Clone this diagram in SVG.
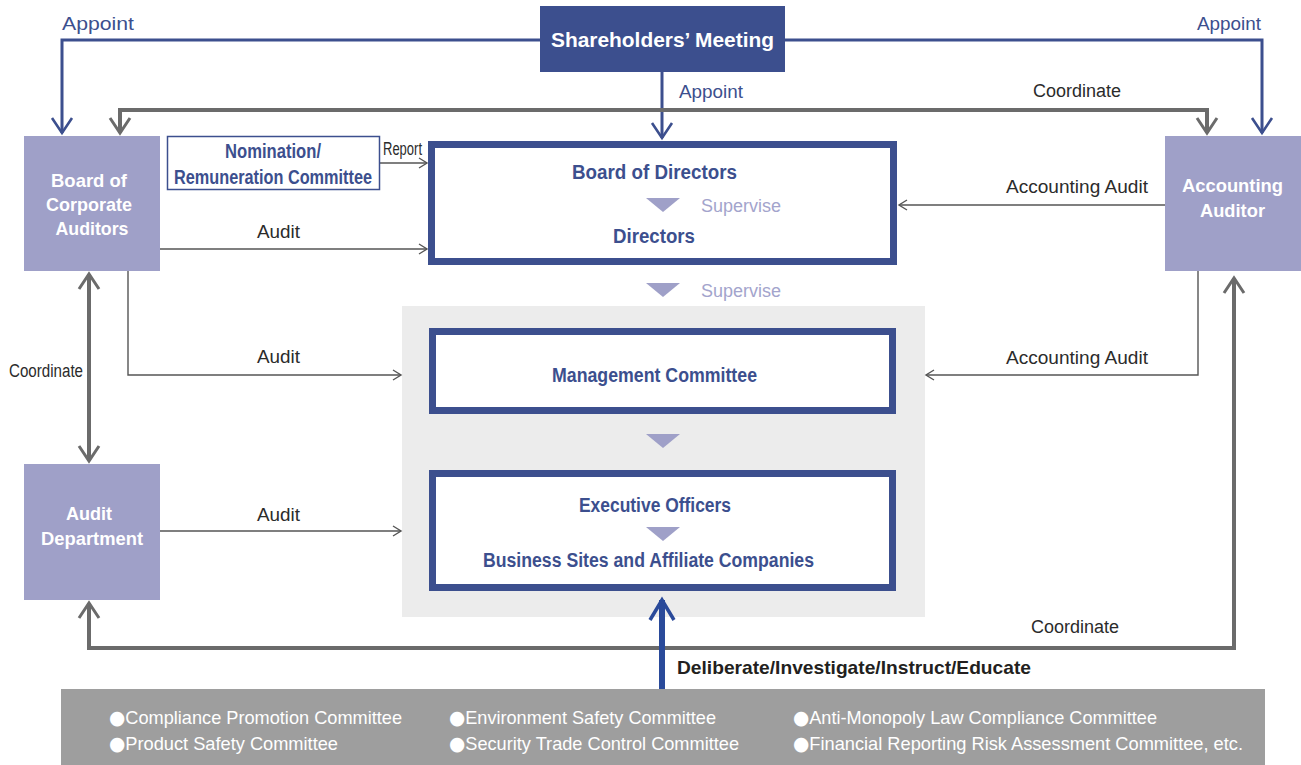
<svg xmlns="http://www.w3.org/2000/svg" width="1301" height="765" viewBox="0 0 1301 765">
  <style>
    text { font-family: "Liberation Sans", Arial, sans-serif; }
    .lbl { font-size: 18px; fill: #2b2b2b; }
    .blue-lbl { font-size: 19px; fill: #3c4f8e; }
    .sup { font-size: 18px; fill: #a3a4cc; }
    .hd { font-size: 20px; font-weight: bold; fill: #3c4f8e; }
    .wt { font-size: 19px; font-weight: bold; fill: #ffffff; }
    .lst { font-size: 18.5px; fill: #ffffff; }
    .dot { font-family: "DejaVu Sans", sans-serif; font-size: 19px; }
    .org { fill: #9fa0c8; }
    .frame { fill: #ffffff; stroke: #3c4f8e; stroke-width: 7; }
    .tri { fill: #9fa0c8; }
    .c-blue { fill: none; stroke: #3c4f8e; stroke-width: 3; }
    .c-gray { fill: none; stroke: #6b6b6b; stroke-width: 4; }
    .c-thin { fill: none; stroke: #555555; stroke-width: 1.4; }
    .c-thick { fill: none; stroke: #2a4a9a; stroke-width: 6; }
  </style>
  <defs>
    <marker id="mBlue" markerUnits="userSpaceOnUse" markerWidth="40" markerHeight="40" refX="0" refY="0" orient="auto" overflow="visible">
      <path d="M-15,-10 L0,0 L-15,10" fill="none" stroke="#3c4f8e" stroke-width="2.6"/>
    </marker>
    <marker id="mGray" markerUnits="userSpaceOnUse" markerWidth="40" markerHeight="40" refX="0" refY="0" orient="auto-start-reverse" overflow="visible">
      <path d="M-15,-10 L0,0 L-15,10" fill="none" stroke="#6b6b6b" stroke-width="3"/>
    </marker>
    <marker id="mThin" markerUnits="userSpaceOnUse" markerWidth="20" markerHeight="20" refX="0" refY="0" orient="auto" overflow="visible">
      <path d="M-8,-5 L0,0 L-8,5" fill="none" stroke="#555555" stroke-width="1.4"/>
    </marker>
    <marker id="mThick" markerUnits="userSpaceOnUse" markerWidth="40" markerHeight="40" refX="0" refY="0" orient="auto" overflow="visible">
      <path d="M-20,-12 L0,0 L-20,12" fill="none" stroke="#2a4a9a" stroke-width="3.5"/>
    </marker>
  </defs>

  <rect width="1301" height="765" fill="#ffffff"/>

  <!-- execution panel behind management and officers -->
  <rect id="execution-panel" x="402" y="306" width="523" height="311" fill="#ececec"/>

  <!-- connectors -->
  <g id="connectors">
    <!-- appointments from the shareholders -->
    <path class="c-blue" d="M540,40 H62 V133" marker-end="url(#mBlue)"/>
    <path class="c-blue" d="M785,40 H1262 V133" marker-end="url(#mBlue)"/>
    <path class="c-blue" d="M662,72 V138" marker-end="url(#mBlue)"/>
    <!-- coordination between auditors -->
    <path class="c-gray" d="M120,133 V110 H1207 V133" marker-start="url(#mGray)" marker-end="url(#mGray)"/>
    <path class="c-gray" d="M89,274 V461" marker-start="url(#mGray)" marker-end="url(#mGray)"/>
    <path class="c-gray" d="M89,603 V648 H1234 V278" marker-start="url(#mGray)" marker-end="url(#mGray)"/>
    <!-- reports and audits -->
    <path class="c-thin" d="M379,163 H427" marker-end="url(#mThin)"/>
    <path class="c-thin" d="M160,249 H427" marker-end="url(#mThin)"/>
    <path class="c-thin" d="M128,271 V375 H401" marker-end="url(#mThin)"/>
    <path class="c-thin" d="M160,531 H401" marker-end="url(#mThin)"/>
    <path class="c-thin" d="M1165,205 H899" marker-end="url(#mThin)"/>
    <path class="c-thin" d="M1198,271 V375 H926" marker-end="url(#mThin)"/>
    <!-- committees to execution -->
    <path class="c-thick" d="M662,689 V600" marker-end="url(#mThick)"/>

    <text class="blue-lbl" x="62" y="30" textLength="72" lengthAdjust="spacingAndGlyphs">Appoint</text>
    <text class="blue-lbl" x="1197" y="30" textLength="64" lengthAdjust="spacingAndGlyphs">Appoint</text>
    <text class="blue-lbl" x="679" y="98" textLength="64" lengthAdjust="spacingAndGlyphs">Appoint</text>
    <text class="lbl" x="1033" y="97" textLength="88" lengthAdjust="spacingAndGlyphs">Coordinate</text>
    <text class="lbl" x="383" y="155" font-size="15" textLength="39" lengthAdjust="spacingAndGlyphs">Report</text>
    <text class="lbl" x="257" y="238" textLength="43" lengthAdjust="spacingAndGlyphs">Audit</text>
    <text class="lbl" x="257" y="363" textLength="43" lengthAdjust="spacingAndGlyphs">Audit</text>
    <text class="lbl" x="257" y="521" textLength="43" lengthAdjust="spacingAndGlyphs">Audit</text>
    <text class="lbl" x="1006" y="193" textLength="142" lengthAdjust="spacingAndGlyphs">Accounting Audit</text>
    <text class="lbl" x="1006" y="364" textLength="142" lengthAdjust="spacingAndGlyphs">Accounting Audit</text>
    <text class="lbl" x="9" y="377" font-size="16" textLength="74" lengthAdjust="spacingAndGlyphs">Coordinate</text>
    <text class="lbl" x="1031" y="633" textLength="88" lengthAdjust="spacingAndGlyphs">Coordinate</text>
    <text x="677" y="674" font-size="19" font-weight="bold" fill="#231f20" textLength="354" lengthAdjust="spacingAndGlyphs">Deliberate/Investigate/Instruct/Educate</text>
  </g>

  <!-- shareholders -->
  <g id="shareholders-meeting">
    <rect x="540" y="6" width="245" height="66" fill="#3c4f8e"/>
    <text x="662.5" y="47" text-anchor="middle" font-size="21" font-weight="bold" fill="#ffffff" textLength="223" lengthAdjust="spacingAndGlyphs">Shareholders’ Meeting</text>
  </g>

  <g id="board-of-corporate-auditors">
    <rect class="org" x="24" y="136" width="136" height="135"/>
    <text class="wt" x="89" y="187" text-anchor="middle" textLength="76" lengthAdjust="spacingAndGlyphs">Board of</text>
    <text class="wt" x="89" y="211" text-anchor="middle" textLength="86" lengthAdjust="spacingAndGlyphs">Corporate</text>
    <text class="wt" x="92" y="235" text-anchor="middle" textLength="73" lengthAdjust="spacingAndGlyphs">Auditors</text>
  </g>

  <g id="nomination-committee">
    <rect x="167.5" y="136.5" width="212" height="53" fill="#ffffff" stroke="#3c4f8e" stroke-width="1.5"/>
    <text class="hd" x="273" y="158" text-anchor="middle" font-size="19" textLength="96" lengthAdjust="spacingAndGlyphs">Nomination/</text>
    <text class="hd" x="273" y="184" text-anchor="middle" font-size="19" textLength="198" lengthAdjust="spacingAndGlyphs">Remuneration Committee</text>
  </g>

  <g id="board-of-directors">
    <rect class="frame" x="431.5" y="144.5" width="462" height="117"/>
    <text class="hd" x="654.5" y="179" text-anchor="middle" textLength="165" lengthAdjust="spacingAndGlyphs">Board of Directors</text>
    <polygon class="tri" points="646,198 680,198 663,212"/>
    <text class="sup" x="701" y="212" textLength="80" lengthAdjust="spacingAndGlyphs">Supervise</text>
    <text class="hd" x="654" y="243" text-anchor="middle" textLength="82" lengthAdjust="spacingAndGlyphs">Directors</text>
  </g>

  <g id="supervise-step">
    <polygon class="tri" points="646,283 680,283 663,297"/>
    <text class="sup" x="701" y="297" textLength="80" lengthAdjust="spacingAndGlyphs">Supervise</text>
  </g>

  <g id="accounting-auditor">
    <rect class="org" x="1165" y="136" width="136" height="135"/>
    <text class="wt" x="1232.5" y="192" text-anchor="middle" textLength="101" lengthAdjust="spacingAndGlyphs">Accounting</text>
    <text class="wt" x="1232.5" y="217" text-anchor="middle" textLength="65" lengthAdjust="spacingAndGlyphs">Auditor</text>
  </g>

  <g id="management-committee">
    <rect class="frame" x="432.5" y="331.5" width="460" height="79"/>
    <text class="hd" x="654.5" y="382" text-anchor="middle" textLength="205" lengthAdjust="spacingAndGlyphs">Management Committee</text>
  </g>

  <g id="delegation-step">
    <polygon class="tri" points="646,434 680,434 663,448"/>
  </g>

  <g id="executive-officers">
    <rect class="frame" x="432.5" y="473.5" width="460" height="114"/>
    <text class="hd" x="655" y="512" text-anchor="middle" textLength="152" lengthAdjust="spacingAndGlyphs">Executive Officers</text>
    <polygon class="tri" points="646,527 680,527 663,541"/>
    <text class="hd" x="648.5" y="567" text-anchor="middle" textLength="331" lengthAdjust="spacingAndGlyphs">Business Sites and Affiliate Companies</text>
  </g>

  <g id="audit-department">
    <rect class="org" x="24" y="464" width="136" height="136"/>
    <text class="wt" x="89" y="520" text-anchor="middle" textLength="46" lengthAdjust="spacingAndGlyphs">Audit</text>
    <text class="wt" x="92" y="545" text-anchor="middle" textLength="102" lengthAdjust="spacingAndGlyphs">Department</text>
  </g>

  <g id="committees">
    <rect x="61" y="689" width="1204" height="76" fill="#9e9e9e"/>
    <text class="lst" x="109" y="724" textLength="293" lengthAdjust="spacingAndGlyphs"><tspan class="dot">●</tspan>Compliance Promotion Committee</text>
    <text class="lst" x="449" y="724" textLength="267" lengthAdjust="spacingAndGlyphs"><tspan class="dot">●</tspan>Environment Safety Committee</text>
    <text class="lst" x="793" y="724" textLength="364" lengthAdjust="spacingAndGlyphs"><tspan class="dot">●</tspan>Anti-Monopoly Law Compliance Committee</text>
    <text class="lst" x="109" y="750" textLength="229" lengthAdjust="spacingAndGlyphs"><tspan class="dot">●</tspan>Product Safety Committee</text>
    <text class="lst" x="449" y="750" textLength="290" lengthAdjust="spacingAndGlyphs"><tspan class="dot">●</tspan>Security Trade Control Committee</text>
    <text class="lst" x="793" y="750" textLength="450" lengthAdjust="spacingAndGlyphs"><tspan class="dot">●</tspan>Financial Reporting Risk Assessment Committee, etc.</text>
  </g>
</svg>
